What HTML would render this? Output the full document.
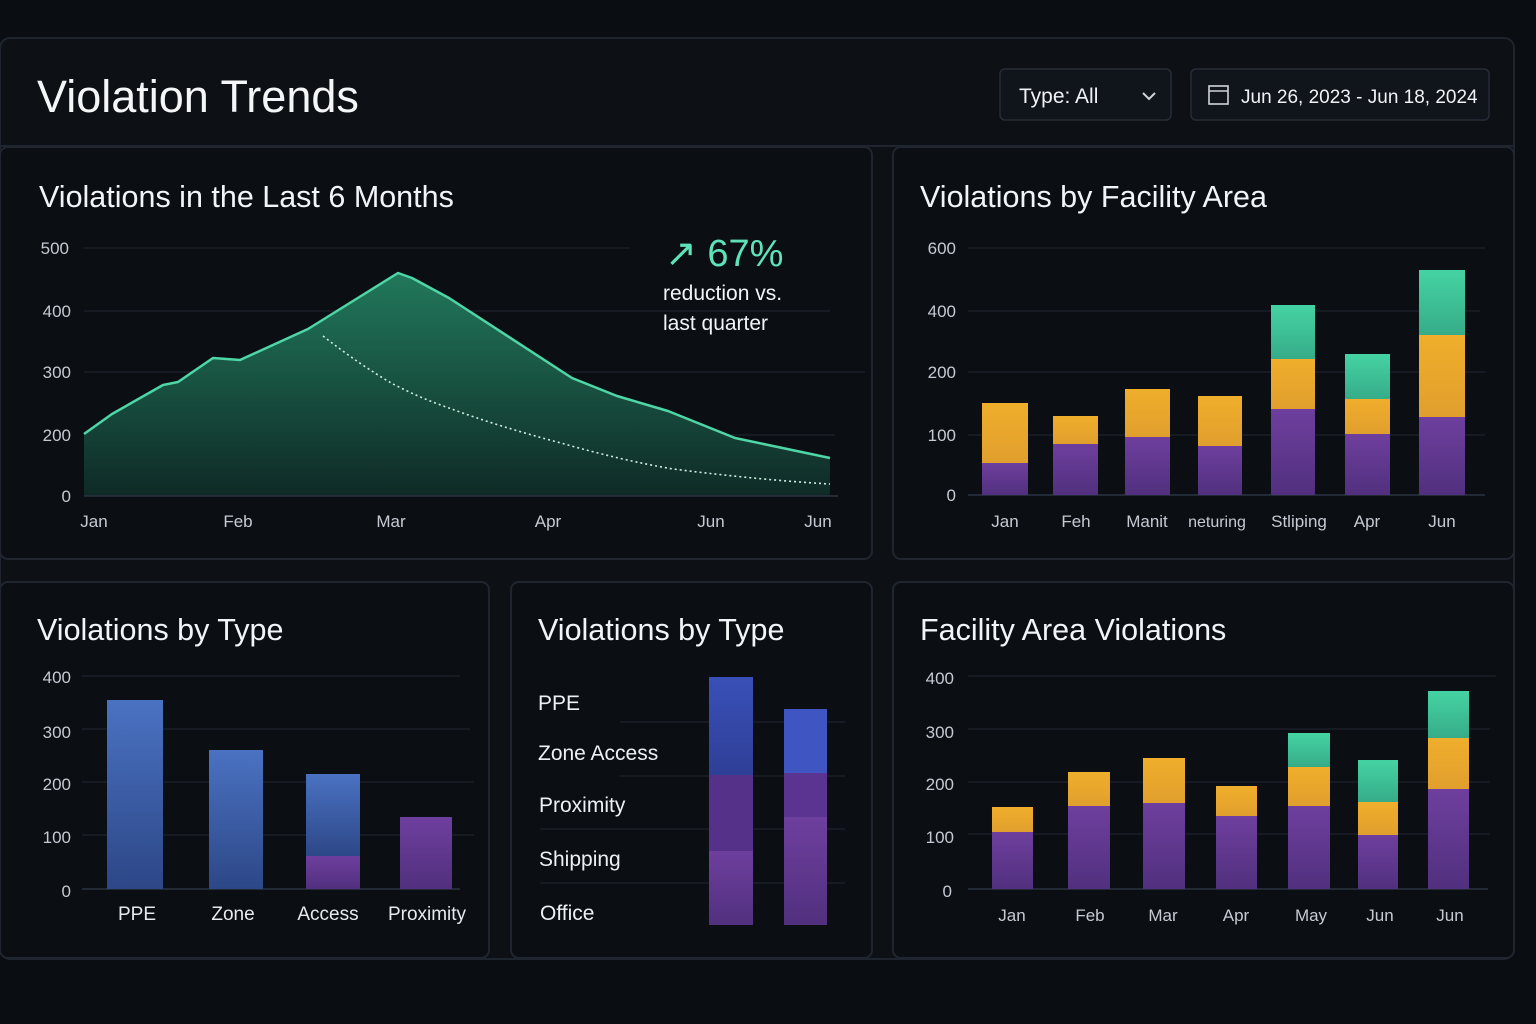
<!DOCTYPE html>
<html><head><meta charset="utf-8"><style>
html,body{margin:0;padding:0;background:#0a0d12;width:1536px;height:1024px;overflow:hidden}
svg{display:block;font-family:"Liberation Sans",sans-serif}
.t{fill:#f2f4f7;font-size:30.5px}
.ax{fill:#c5cad3;font-size:17px}
.g{stroke:#1c222b;stroke-width:1.3}
</style></head><body>
<svg width="1536" height="1024" viewBox="0 0 1536 1024">
<defs>
<linearGradient id="area" x1="0" y1="0" x2="0" y2="1"><stop offset="0" stop-color="#21785b"/><stop offset="1" stop-color="#0f2a26"/></linearGradient>
<linearGradient id="pu" x1="0" y1="0" x2="0" y2="1"><stop offset="0" stop-color="#6e3f9e"/><stop offset="1" stop-color="#51307e"/></linearGradient>
<linearGradient id="bl" x1="0" y1="0" x2="0" y2="1"><stop offset="0" stop-color="#4a72c2"/><stop offset="1" stop-color="#2d4787"/></linearGradient>
<linearGradient id="bl2" x1="0" y1="0" x2="0" y2="1"><stop offset="0" stop-color="#3a50b8"/><stop offset="1" stop-color="#2e3f96"/></linearGradient>
<linearGradient id="or" x1="0" y1="0" x2="0" y2="1"><stop offset="0" stop-color="#f0ae2c"/><stop offset="1" stop-color="#e09f2d"/></linearGradient>
<linearGradient id="te" x1="0" y1="0" x2="0" y2="1"><stop offset="0" stop-color="#45d3a3"/><stop offset="1" stop-color="#36ac88"/></linearGradient>
</defs>
<rect x="0" y="38" width="1514" height="921" rx="10" fill="#0d1116" stroke="#1e252e" stroke-width="2"/>
<line x1="0" y1="146" x2="1514" y2="146" stroke="#1e252e" stroke-width="2"/>
<text x="37" y="112" fill="#f5f6f8" font-size="45">Violation Trends</text>
<rect x="1000" y="69" width="171" height="51" rx="5" fill="#10151b" stroke="#262d37" stroke-width="1.5"/>
<text x="1019" y="103" fill="#f0f2f5" font-size="21">Type: All</text>
<path d="M1143 93 l6 6 l6 -6" stroke="#d0d4da" stroke-width="2" fill="none"/>
<rect x="1191" y="69" width="298" height="51" rx="5" fill="#10151b" stroke="#262d37" stroke-width="1.5"/>
<rect x="1209" y="86" width="19" height="18" fill="none" stroke="#d0d4da" stroke-width="1.6"/>
<line x1="1209" y1="91" x2="1228" y2="91" stroke="#d0d4da" stroke-width="1.4"/>
<text x="1241" y="103" fill="#f0f2f5" font-size="19">Jun 26, 2023 - Jun 18, 2024</text>

<!-- cards -->
<rect x="0" y="147" width="872" height="412" rx="8" fill="#0b0f14" stroke="#1f262f" stroke-width="2"/>
<rect x="893" y="147" width="621" height="412" rx="8" fill="#0b0f14" stroke="#1f262f" stroke-width="2"/>
<rect x="0" y="582" width="489" height="376" rx="8" fill="#0b0f14" stroke="#1f262f" stroke-width="2"/>
<rect x="511" y="582" width="361" height="376" rx="8" fill="#0b0f14" stroke="#1f262f" stroke-width="2"/>
<rect x="893" y="582" width="621" height="376" rx="8" fill="#0b0f14" stroke="#1f262f" stroke-width="2"/>

<!-- chart 1 -->
<text x="39" y="207" class="t">Violations in the Last 6 Months</text>
<g class="g"><line x1="84" y1="248" x2="630" y2="248"/><line x1="84" y1="311" x2="830" y2="311"/><line x1="84" y1="372" x2="865" y2="372"/><line x1="84" y1="435" x2="835" y2="435"/></g>
<g class="ax" text-anchor="end"><text x="69" y="254">500</text><text x="71" y="317">400</text><text x="71" y="378">300</text><text x="71" y="441">200</text><text x="71" y="502">0</text></g>
<path d="M84 434 L112 414 L163 385 L178 382 L213 358 L240 360 L308 329 L398 273 L412 278 L449 298 L572 378 L617 396 L668 411 L735 438 L830 458 L830 496 L84 496 Z" fill="url(#area)"/>
<path d="M84 434 L112 414 L163 385 L178 382 L213 358 L240 360 L308 329 L398 273 L412 278 L449 298 L572 378 L617 396 L668 411 L735 438 L830 458" fill="none" stroke="#4fd6a6" stroke-width="2.5" stroke-linejoin="round"/>
<path d="M323 336 Q360 365 393 384 Q420 398 449 408 Q500 427 561 443 Q620 460 673 469 Q760 480 830 484" fill="none" stroke="#cfeee3" stroke-width="1.6" stroke-dasharray="2 3"/>
<line x1="84" y1="496" x2="838" y2="496" stroke="#2a3340" stroke-width="1.5"/>
<g class="ax" text-anchor="middle"><text x="94" y="527">Jan</text><text x="238" y="527">Feb</text><text x="391" y="527">Mar</text><text x="548" y="527">Apr</text><text x="711" y="527">Jun</text><text x="818" y="527">Jun</text></g>
<text x="665" y="266" fill="#5ee3b8" font-size="38">↗ 67%</text>
<text x="663" y="300" fill="#f2f4f7" font-size="21">reduction vs.</text>
<text x="663" y="330" fill="#f2f4f7" font-size="21">last quarter</text>

<!-- chart 2 -->
<text x="920" y="207" class="t">Violations by Facility Area</text>
<g class="g"><line x1="968" y1="248" x2="1485" y2="248"/><line x1="968" y1="311" x2="1480" y2="311"/><line x1="968" y1="372" x2="1485" y2="372"/><line x1="968" y1="435" x2="1485" y2="435"/></g>
<line x1="968" y1="495" x2="1485" y2="495" stroke="#2a3340" stroke-width="1.5"/>
<g class="ax" text-anchor="end"><text x="956" y="254">600</text><text x="956" y="317">400</text><text x="956" y="378">200</text><text x="956" y="441">100</text><text x="956" y="501">0</text></g>
<g>
<rect x="982" y="463" width="46" height="32" fill="url(#pu)"/><rect x="982" y="403" width="46" height="60" fill="url(#or)"/>
<rect x="1053" y="444" width="45" height="51" fill="url(#pu)"/><rect x="1053" y="416" width="45" height="28" fill="url(#or)"/>
<rect x="1125" y="437" width="45" height="58" fill="url(#pu)"/><rect x="1125" y="389" width="45" height="48" fill="url(#or)"/>
<rect x="1198" y="446" width="44" height="49" fill="url(#pu)"/><rect x="1198" y="396" width="44" height="50" fill="url(#or)"/>
<rect x="1271" y="409" width="44" height="86" fill="url(#pu)"/><rect x="1271" y="359" width="44" height="50" fill="url(#or)"/><rect x="1271" y="305" width="44" height="54" fill="url(#te)"/>
<rect x="1345" y="434" width="45" height="61" fill="url(#pu)"/><rect x="1345" y="399" width="45" height="35" fill="url(#or)"/><rect x="1345" y="354" width="45" height="45" fill="url(#te)"/>
<rect x="1419" y="417" width="46" height="78" fill="url(#pu)"/><rect x="1419" y="335" width="46" height="82" fill="url(#or)"/><rect x="1419" y="270" width="46" height="65" fill="url(#te)"/>
</g>
<g class="ax" text-anchor="middle"><text x="1005" y="527">Jan</text><text x="1076" y="527">Feh</text><text x="1147" y="527">Manit</text><text x="1217" y="527" font-size="16">neturing</text><text x="1299" y="527">Stliping</text><text x="1367" y="527">Apr</text><text x="1442" y="527">Jun</text></g>

<!-- chart 3 -->
<text x="37" y="640" class="t">Violations by Type</text>
<g class="g"><line x1="82" y1="676" x2="460" y2="676"/><line x1="82" y1="729" x2="470" y2="729"/><line x1="82" y1="782" x2="474" y2="782"/><line x1="82" y1="835" x2="474" y2="835"/></g>
<line x1="82" y1="889" x2="460" y2="889" stroke="#2a3340" stroke-width="1.5"/>
<g class="ax" text-anchor="end"><text x="71" y="683">400</text><text x="71" y="738">300</text><text x="71" y="790">200</text><text x="71" y="843">100</text><text x="71" y="897">0</text></g>
<rect x="107" y="700" width="56" height="189" fill="url(#bl)"/>
<rect x="209" y="750" width="54" height="139" fill="url(#bl)"/>
<rect x="306" y="774" width="54" height="82" fill="url(#bl)"/><rect x="306" y="856" width="54" height="33" fill="url(#pu)"/>
<rect x="400" y="817" width="52" height="72" fill="url(#pu)"/>
<g fill="#e6e9ee" font-size="19" text-anchor="middle"><text x="137" y="920">PPE</text><text x="233" y="920">Zone</text><text x="328" y="920">Access</text><text x="427" y="920">Proximity</text></g>

<!-- chart 4 -->
<text x="538" y="640" class="t">Violations by Type</text>
<g class="g"><line x1="620" y1="722" x2="845" y2="722"/><line x1="620" y1="776" x2="845" y2="776"/><line x1="540" y1="829" x2="845" y2="829"/><line x1="540" y1="883" x2="845" y2="883"/></g>
<g fill="#eef0f4" font-size="21"><text x="538" y="710">PPE</text><text x="538" y="760">Zone Access</text><text x="539" y="812">Proximity</text><text x="539" y="866">Shipping</text><text x="540" y="920">Office</text></g>
<rect x="709" y="677" width="44" height="98" fill="url(#bl2)"/><rect x="709" y="775" width="44" height="76" fill="#56318a"/><rect x="709" y="851" width="44" height="74" fill="url(#pu)"/>
<rect x="784" y="709" width="43" height="64" fill="#3f56c2"/><rect x="784" y="773" width="43" height="44" fill="#5a3490"/><rect x="784" y="817" width="43" height="108" fill="url(#pu)"/>

<!-- chart 5 -->
<text x="920" y="640" class="t">Facility Area Violations</text>
<g class="g"><line x1="968" y1="676" x2="1496" y2="676"/><line x1="968" y1="729" x2="1490" y2="729"/><line x1="968" y1="782" x2="1490" y2="782"/><line x1="968" y1="834" x2="1490" y2="834"/></g>
<line x1="968" y1="889" x2="1488" y2="889" stroke="#2a3340" stroke-width="1.5"/>
<g class="ax" text-anchor="end"><text x="954" y="684">400</text><text x="954" y="738">300</text><text x="954" y="790">200</text><text x="954" y="843">100</text><text x="952" y="897">0</text></g>
<rect x="992" y="832" width="41" height="57" fill="url(#pu)"/><rect x="992" y="807" width="41" height="25" fill="url(#or)"/>
<rect x="1068" y="806" width="42" height="83" fill="url(#pu)"/><rect x="1068" y="772" width="42" height="34" fill="url(#or)"/>
<rect x="1143" y="803" width="42" height="86" fill="url(#pu)"/><rect x="1143" y="758" width="42" height="45" fill="url(#or)"/>
<rect x="1216" y="816" width="41" height="73" fill="url(#pu)"/><rect x="1216" y="786" width="41" height="30" fill="url(#or)"/>
<rect x="1288" y="806" width="42" height="83" fill="url(#pu)"/><rect x="1288" y="767" width="42" height="39" fill="url(#or)"/><rect x="1288" y="733" width="42" height="34" fill="url(#te)"/>
<rect x="1358" y="835" width="40" height="54" fill="url(#pu)"/><rect x="1358" y="802" width="40" height="33" fill="url(#or)"/><rect x="1358" y="760" width="40" height="42" fill="url(#te)"/>
<rect x="1428" y="789" width="41" height="100" fill="url(#pu)"/><rect x="1428" y="738" width="41" height="51" fill="url(#or)"/><rect x="1428" y="691" width="41" height="47" fill="url(#te)"/>
<g class="ax" text-anchor="middle" font-size="19"><text x="1012" y="921">Jan</text><text x="1090" y="921">Feb</text><text x="1163" y="921">Mar</text><text x="1236" y="921">Apr</text><text x="1311" y="921">May</text><text x="1380" y="921">Jun</text><text x="1450" y="921">Jun</text></g>
</svg>
</body></html>
